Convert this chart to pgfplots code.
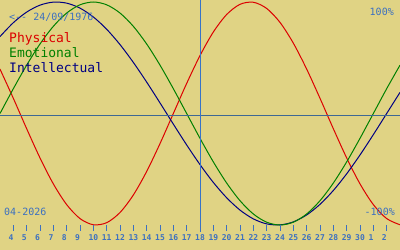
\documentclass[border=0pt]{standalone}
\usepackage{pgfplots}
\pgfplotsset{compat=1.18}
\usepackage{fontspec}
\setmainfont{DejaVu Sans Mono}
\definecolor{bg}{RGB}{224,211,132}
\definecolor{phys}{RGB}{220,0,0}
\definecolor{emo}{RGB}{0,128,0}
\definecolor{intel}{RGB}{0,0,130}
\definecolor{txtblue}{RGB}{60,112,192}
\definecolor{hline}{RGB}{62,104,148}
\definecolor{vline}{RGB}{55,115,200}
\begin{document}
\begin{tikzpicture}
\begin{axis}[width=400pt,height=250pt,scale only axis,
  xmin=3,xmax=33,ymin=-1.224,ymax=1.018,
  axis line style={draw=none},ticks=none,
  axis background/.style={fill=bg},
  clip=true]
% Physical (23 days)
\addplot[phys,line width=1pt,smooth] coordinates {
(3,0.3984)(4,0.1362)(5,-0.1362)(6,-0.3984)(7,-0.6310)(8,-0.8170)(9,-0.9423)(10,-0.9977)
(11,-0.9791)(12,-0.8879)(13,-0.7308)(14,-0.5196)(15,-0.2698)(16,0)(17,0.2698)(18,0.5196)
(19,0.7308)(20,0.8879)(21,0.9791)(22,0.9977)(23,0.9423)(24,0.8170)(25,0.6310)(26,0.3984)
(27,0.1362)(28,-0.1362)(29,-0.3984)(30,-0.6310)(31,-0.8170)(32,-0.9423)(33,-0.9977)};
% Intellectual (33 days)
\addplot[intel,line width=1pt,smooth] coordinates {
(3,0.6901)(4,0.8146)(5,0.9096)(6,0.9718)(7,0.9989)(8,0.9898)(9,0.9450)(10,0.8660)
(11,0.7557)(12,0.6182)(13,0.4582)(14,0.2817)(15,0.0951)(16,-0.0951)(17,-0.2817)(18,-0.4582)
(19,-0.6182)(20,-0.7557)(21,-0.8660)(22,-0.9450)(23,-0.9898)(24,-0.9989)(25,-0.9718)(26,-0.9096)
(27,-0.8146)(28,-0.6901)(29,-0.5406)(30,-0.3717)(31,-0.1893)(32,0)(33,0.1893)};
% Emotional (28 days)
\addplot[emo,line width=1pt,smooth] coordinates {
(3,0)(4,0.2225)(5,0.4339)(6,0.6235)(7,0.7818)(8,0.9010)(9,0.9749)(10,1)
(11,0.9749)(12,0.9010)(13,0.7818)(14,0.6235)(15,0.4339)(16,0.2225)(17,0)(18,-0.2225)
(19,-0.4339)(20,-0.6235)(21,-0.7818)(22,-0.9010)(23,-0.9749)(24,-1)(25,-0.9749)(26,-0.9010)
(27,-0.7818)(28,-0.6235)(29,-0.4339)(30,-0.2225)(31,0)(32,0.2225)(33,0.4339)};
\draw[hline,line width=1pt] (axis cs:3,-0.0135) -- (axis cs:33,-0.0135);
\draw[vline,line width=1pt] (axis cs:18,1.018) -- (axis cs:18,-1.06);
\pgfplotsinvokeforeach{4,...,32}{\draw[txtblue,line width=1pt] (axis cs:#1,-1.0) -- (axis cs:#1,-1.0537);}
\coordinate (TL) at (rel axis cs:0,1);
\end{axis}
\node[txtblue,font=\fontsize{10}{12}\selectfont,anchor=base west,inner sep=0pt] at ([shift={(9pt,-21pt)}]TL) {<{-}{-} 24/09/1976};
\node[phys,font=\fontsize{13}{15}\selectfont,anchor=base west,inner sep=0pt] at ([shift={(9pt,-43pt)}]TL) {Physical};
\node[emo,font=\fontsize{13}{15}\selectfont,anchor=base west,inner sep=0pt] at ([shift={(9pt,-58pt)}]TL) {Emotional};
\node[intel,font=\fontsize{13}{15}\selectfont,anchor=base west,inner sep=0pt] at ([shift={(9pt,-73pt)}]TL) {Intellectual};
\node[txtblue,font=\fontsize{10}{12}\selectfont,anchor=base east,inner sep=0pt] at ([shift={(394pt,-16pt)}]TL) {100\%};
\node[txtblue,font=\fontsize{10}{12}\selectfont,anchor=base east,inner sep=0pt] at ([shift={(395pt,-216pt)}]TL) {{-}100\%};
\node[txtblue,font=\fontsize{10}{12}\selectfont,anchor=base west,inner sep=0pt] at ([shift={(4pt,-216pt)}]TL) {04{-}2026};
\foreach \d/\l in {4/4,5/5,6/6,7/7,8/8,9/9,10/10,11/11,12/12,13/13,14/14,15/15,16/16,17/17,18/18,19/19,20/20,21/21,22/22,23/23,24/24,25/25,26/26,27/27,28/28,29/29,30/30,31/1,32/2}{
  \pgfmathsetmacro{\xx}{(\d-3)*13.3333-5}
  \node[txtblue,font=\bfseries\fontsize{8}{9}\selectfont,anchor=base west,inner sep=0pt] at ([shift={(\xx pt,-241pt)}]TL) {\l};
}
\end{tikzpicture}
\end{document}
